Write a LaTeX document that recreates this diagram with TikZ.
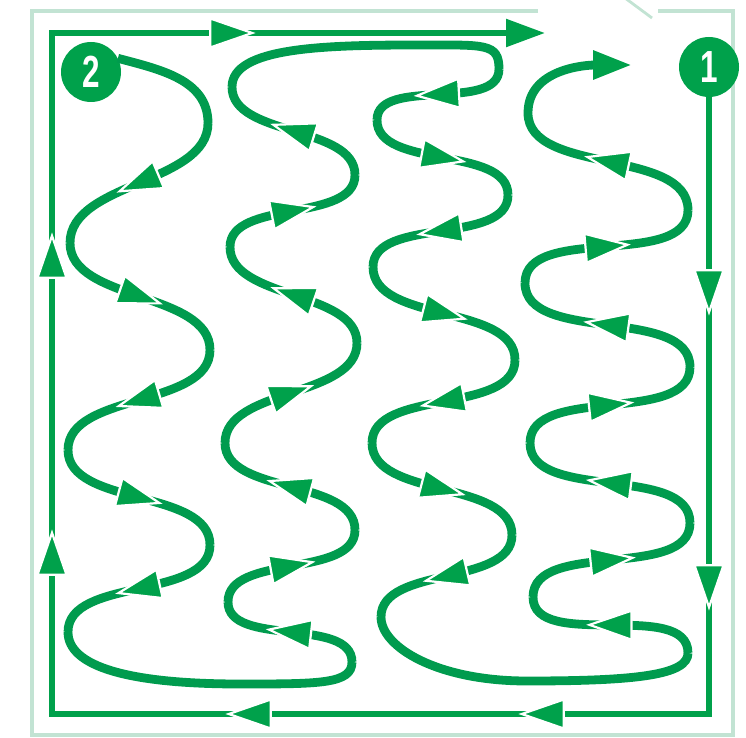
\documentclass[tikz,border=0pt]{standalone}
\usepackage{fontspec}
\setmainfont{Liberation Sans}
\usetikzlibrary{arrows.meta,decorations.markings}
\definecolor{wavegreen}{RGB}{0,155,78}
\definecolor{tipgreen}{RGB}{0,161,75}
\definecolor{palegreen}{RGB}{194,227,211}
\newcommand{\tiphead}{\fill[tipgreen, draw=white, line width=2.2pt, arrows=-] (-21pt,-14.5pt) -- (21pt,0pt) -- (-21pt,14.5pt) -- cycle;}
\tikzset{
  wave/.style={draw=wavegreen, line width=8.8pt},
  sway/.style={wave, looseness=0.85},
  midtip/.style={postaction={decorate}, decoration={markings, mark=at position #1 with {\tiphead}}},
  midtip/.default=0.5,
  frameline/.style={draw=tipgreen, line width=5.5pt},
  endtip/.style={-{Triangle[length=39pt,width=27pt]}},
  numdot/.style={circle, fill=tipgreen, minimum size=60pt, inner sep=0pt, text=white, font=\fontsize{45}{45}\selectfont\bfseries}
}
\begin{document}
\begin{tikzpicture}[x=1pt,y=1pt]
\useasboundingbox (0,0) rectangle (746,737);
% pale border, open at top right
\draw[palegreen, line width=3.8pt] (538,726) -- (32,726) -- (32,2) -- (733,2) -- (733,726) -- (658,726);
\draw[palegreen, line width=2.8pt] (625,739) -- (652,719);

% numbered dots
\node[numdot] (one) at (709,670) {\scalebox{0.7}[1]{1}};
\node[numdot] (two) at (91,665) {\scalebox{0.7}[1]{2}};

% frame corners
\coordinate (br) at (709,23);
\coordinate (bl) at (52,23);
\coordinate (tl) at (52,704);
\coordinate (tend) at (545,704);

% column 1
\coordinate (r1) at (208,614);
\coordinate (l1) at (70,494);
\coordinate (r2) at (210,387);
\coordinate (l2) at (68,287);
\coordinate (r3) at (210,192);
\coordinate (l3) at (68,105);
\coordinate (b1) at (240,53);
% column 2
\coordinate (r4) at (352,75);
\coordinate (l4) at (228,135);
\coordinate (r5) at (355,207);
\coordinate (l5) at (225,294);
\coordinate (r6) at (357,394);
\coordinate (l6) at (230,490);
\coordinate (r7) at (355,562);
\coordinate (l7) at (232,650);
\coordinate (t1) at (420,692);
% column 3
\coordinate (r8) at (499,668);
\coordinate (l8) at (377,617);
\coordinate (r9) at (508,542);
\coordinate (l9) at (373,470);
\coordinate (r10) at (515,377);
\coordinate (l10) at (372,294);
\coordinate (r11) at (512,202);
\coordinate (l11) at (381,120);
\coordinate (b2) at (527,56);
% column 4
\coordinate (r12) at (688,84);
\coordinate (l12) at (533,140);
\coordinate (r13) at (690,214);
\coordinate (l13) at (530,294);
\coordinate (r14) at (690,370);
\coordinate (l14) at (525,454);
\coordinate (r15) at (688,527);
\coordinate (l15) at (528,624);
\coordinate (e4) at (632,672);

% frame from 1 round to the top
\draw[frameline, endtip, postaction={decorate}, decoration={markings,
    mark=at position 194pt with {\tiphead},
    mark=at position 489pt with {\tiphead},
    mark=at position 783pt with {\tiphead},
    mark=at position 1076pt with {\tiphead},
    mark=at position 1434pt with {\tiphead},
    mark=at position 1731pt with {\tiphead},
    mark=at position 2134pt with {\tiphead}}]
  (one) -- (br) -- (bl) -- (tl) -- (tend);

% column 1, down from 2
\draw[wave] (two.27) to[out=-15,in=90] (r1);
\draw[sway, midtip] (r1) to[out=-90,in=90] (l1);
\draw[sway, midtip] (l1) to[out=-90,in=90] (r2);
\draw[sway, midtip] (r2) to[out=-90,in=90] (l2);
\draw[sway, midtip] (l2) to[out=-90,in=90] (r3);
\draw[sway, midtip] (r3) to[out=-90,in=90] (l3);
\draw[wave] (l3) .. controls +(0,-35) and +(-110,0) .. (b1) .. controls +(80,0) and +(0,-22) .. (r4);

% column 2, up
\draw[sway, midtip] (r4) to[out=90,in=-90] (l4);
\draw[sway, midtip] (l4) to[out=90,in=-90] (r5);
\draw[sway, midtip] (r5) to[out=90,in=-90] (l5);
\draw[sway, midtip] (l5) to[out=90,in=-90] (r6);
\draw[sway, midtip] (r6) to[out=90,in=-90] (l6);
\draw[sway, midtip] (l6) to[out=90,in=-90] (r7);
\draw[sway, midtip] (r7) to[out=90,in=-90] (l7);
\draw[wave] (l7) .. controls +(0,40) and +(-95,0) .. (t1) .. controls +(65,0) and +(0,26) .. (r8);

% column 3, down
\draw[sway, midtip] (r8) to[out=-90,in=90] (l8);
\draw[sway, midtip] (l8) to[out=-90,in=90] (r9);
\draw[sway, midtip] (r9) to[out=-90,in=90] (l9);
\draw[sway, midtip] (l9) to[out=-90,in=90] (r10);
\draw[sway, midtip] (r10) to[out=-90,in=90] (l10);
\draw[sway, midtip] (l10) to[out=-90,in=90] (r11);
\draw[sway, midtip] (r11) to[out=-90,in=90] (l11);
\draw[wave] (l11) .. controls +(0,-30) and +(-90,0) .. (b2) .. controls +(110,0) and +(0,-22) .. (r12);

% column 4, up towards 1
\draw[sway, midtip] (r12) to[out=90,in=-90] (l12);
\draw[sway, midtip] (l12) to[out=90,in=-90] (r13);
\draw[sway, midtip] (r13) to[out=90,in=-90] (l13);
\draw[sway, midtip] (l13) to[out=90,in=-90] (r14);
\draw[sway, midtip] (r14) to[out=90,in=-90] (l14);
\draw[sway, midtip] (l14) to[out=90,in=-90] (r15);
\draw[sway, midtip] (r15) to[out=90,in=-90] (l15);
\draw[wave, -{Triangle[length=39pt,width=27pt,color=tipgreen]}] (l15) to[out=90,in=180] (e4);
\end{tikzpicture}
\end{document}
